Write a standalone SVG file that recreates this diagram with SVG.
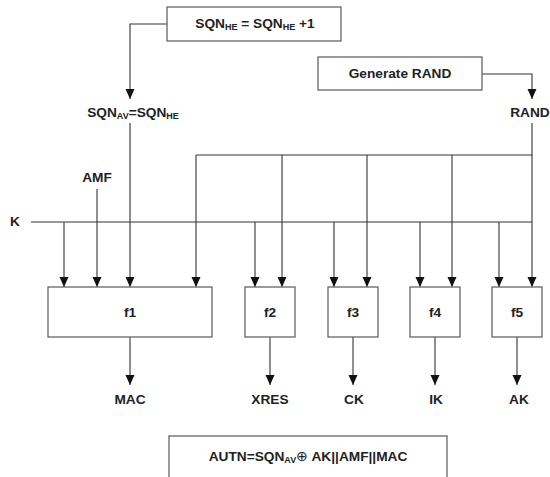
<svg xmlns="http://www.w3.org/2000/svg" width="550" height="477" viewBox="0 0 550 477">
<style>
text{font-family:"Liberation Sans",Arial,sans-serif;font-weight:bold;font-size:13.7px;fill:#222}
.c{text-anchor:middle}
.sub{font-size:9px}
.box{fill:#fff;stroke:#666;stroke-width:1.3}
.ln{fill:none;stroke:#333;stroke-width:1.1}
.ar{marker-end:url(#ah)}
</style>
<defs>
<marker id="ah" markerUnits="userSpaceOnUse" markerWidth="11" markerHeight="12" refX="10" refY="4.5" orient="auto">
<path d="M0,0 L10,4.5 L0,9 Z" fill="#111"/>
</marker>
</defs>
<rect width="550" height="477" fill="#fff"/>
<g id="connectors">
<path class="ln ar" d="M167,24 H130 V99"/>
<path class="ln ar" d="M482,74 H532 V99"/>
<path class="ln" d="M532,123 V155 H196"/>
<path class="ln" d="M31,222 H532"/>
<path class="ln ar" d="M130,123 V287"/>
<path class="ln ar" d="M97,189 V287"/>
<path class="ln ar" d="M64,222 V287"/>
<path class="ln ar" d="M196,155 V287"/>
<path class="ln ar" d="M255,222 V287"/>
<path class="ln ar" d="M282,155 V287"/>
<path class="ln ar" d="M334,222 V287"/>
<path class="ln ar" d="M367,155 V287"/>
<path class="ln ar" d="M420,222 V287"/>
<path class="ln ar" d="M452,155 V287"/>
<path class="ln ar" d="M499,222 V287"/>
<path class="ln ar" d="M532,155 V287"/>
<path class="ln ar" d="M130,337 V385"/>
<path class="ln ar" d="M270,337 V385"/>
<path class="ln ar" d="M353,337 V385"/>
<path class="ln ar" d="M435,337 V385"/>
<path class="ln ar" d="M517,337 V385"/>
</g>
<g id="sqn-inc">
<rect class="box" x="167" y="7" width="174" height="34"/>
<text class="c" x="255" y="28">SQN<tspan class="sub" dy="2">HE</tspan><tspan dy="-2"> = SQN</tspan><tspan class="sub" dy="2">HE</tspan><tspan dy="-2"> +1</tspan></text>
</g>
<g id="gen-rand">
<rect class="box" x="318" y="57" width="164" height="33"/>
<text class="c" x="400" y="78">Generate RAND</text>
</g>
<g id="sqn-av"><text class="c" x="133" y="117">SQN<tspan class="sub" dy="2">AV</tspan><tspan dy="-2">=SQN</tspan><tspan class="sub" dy="2">HE</tspan></text></g>
<g id="rand"><text class="c" x="530" y="117">RAND</text></g>
<g id="amf"><text class="c" x="97" y="182">AMF</text></g>
<g id="k"><text x="10" y="226">K</text></g>
<g id="f1"><rect class="box" x="48" y="287" width="164" height="50"/><text class="c" x="130" y="317">f1</text></g>
<g id="f2"><rect class="box" x="245" y="287" width="50" height="50"/><text class="c" x="270" y="317">f2</text></g>
<g id="f3"><rect class="box" x="328" y="287" width="50" height="50"/><text class="c" x="353" y="317">f3</text></g>
<g id="f4"><rect class="box" x="410" y="287" width="50" height="50"/><text class="c" x="435" y="317">f4</text></g>
<g id="f5"><rect class="box" x="492" y="287" width="50" height="50"/><text class="c" x="517" y="317">f5</text></g>
<g id="mac"><text class="c" x="130" y="404">MAC</text></g>
<g id="xres"><text class="c" x="270" y="404">XRES</text></g>
<g id="ck"><text class="c" x="354" y="404">CK</text></g>
<g id="ik"><text class="c" x="436" y="404">IK</text></g>
<g id="ak"><text class="c" x="519" y="404">AK</text></g>
<g id="autn">
<rect class="box" x="169" y="436" width="278" height="50"/>
<text class="c" x="308" y="461">AUTN=SQN<tspan class="sub" dy="2">AV</tspan><tspan dy="-2" font-weight="normal">⊕</tspan><tspan> AK||AMF||MAC</tspan></text>
</g>
</svg>
